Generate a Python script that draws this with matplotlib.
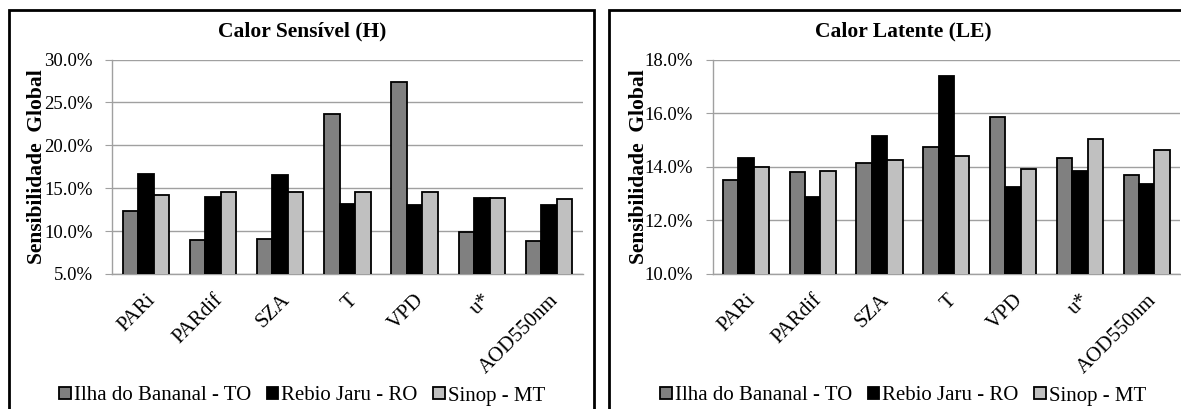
import numpy as np
import matplotlib.pyplot as plt
from matplotlib.patches import Rectangle
from matplotlib.ticker import FuncFormatter

plt.rcParams['font.family'] = ['Liberation Serif', 'DejaVu Serif']

# data
variables = ['PARi', 'PARdif', 'SZA', 'T', 'VPD', 'u*', 'AOD550nm']
sites = ['Ilha do Bananal - TO', 'Rebio Jaru - RO', 'Sinop - MT']
colors = ['#808080', '#000000', '#c0c0c0']

h_ilha = [12.3, 9.0, 9.1, 23.7, 27.4, 9.9, 8.9]
h_rebio = [16.7, 14.0, 16.5, 13.2, 13.1, 13.9, 13.1]
h_sinop = [14.2, 14.6, 14.5, 14.6, 14.6, 13.9, 13.7]

le_ilha = [13.5, 13.8, 14.14, 14.73, 15.86, 14.31, 13.7]
le_rebio = [14.31, 12.87, 15.13, 17.39, 13.24, 13.84, 13.35]
le_sinop = [14.0, 13.85, 14.27, 14.41, 13.91, 15.02, 14.62]

W, H = 1181, 409
fig = plt.figure(figsize=(W / 100, H / 100), dpi=100)

# panel frames
fig.add_artist(Rectangle((9 / W, -0.2), (594 - 9) / W, 1.2 - 10 / H,
                         transform=fig.transFigure, fill=False, lw=2, ec='black'))
fig.add_artist(Rectangle((609 / W, -0.2), 0.5, 1.2 - 10 / H,
                         transform=fig.transFigure, fill=False, lw=2, ec='black'))


def panel(left, width, center, label_x, series, ylim, yticks, title):
    ax = fig.add_axes([left / W, 1 - 274 / H, width / W, (274 - 59.5) / H])
    x = np.arange(len(variables))
    bw = 0.23
    for i, (vals, c, lab) in enumerate(zip(series, colors, sites)):
        ax.bar(x + (i - 1) * bw, vals, bw, bottom=0, color=c, edgecolor='black',
               linewidth=1.3, label=lab, zorder=3)
    ax.set_xlim(-0.5, len(variables) - 0.5)
    ax.set_ylim(*ylim)
    ax.set_yticks(yticks)
    ax.yaxis.set_major_formatter(FuncFormatter(lambda v, p: f'{v:.1f}%'))
    ax.grid(axis='y', color='#a0a0a0', lw=1, zorder=0)
    ax.set_xticks(x)
    ax.set_xticklabels(variables, rotation=45, ha='right', rotation_mode='anchor',
                       fontsize=15)
    ax.tick_params(axis='x', length=0, pad=12)
    ax.tick_params(axis='y', length=5, color='#a0a0a0', labelsize=13.5, pad=9)
    for s in ['top', 'right']:
        ax.spines[s].set_visible(False)
    for s in ['left', 'bottom']:
        ax.spines[s].set_color('#a0a0a0')
        ax.spines[s].set_linewidth(1)
    ax.set_ylabel('Sensibilidade  Global', fontsize=15.5, fontweight='bold')
    ax.yaxis.set_label_coords((label_x - left) / width, 0.5)
    ax.yaxis.label.set_va('center')
    fig.text(center / W, 1 - 31 / H, title, ha='center', va='center',
             fontsize=15.5, fontweight='bold')
    handles, labels = ax.get_legend_handles_labels()
    fig.legend(handles, labels, loc='center', bbox_to_anchor=(center / W, 1 - 396 / H),
               ncol=3, frameon=False, fontsize=15, handlelength=0.55, handleheight=0.55,
               handletextpad=0.15, columnspacing=0.75)
    return ax


panel(112.2, 470.4, 302, 37, [h_ilha, h_rebio, h_sinop], (5, 30),
      [5, 10, 15, 20, 25, 30], 'Calor Sensível (H)')
panel(712.5, 467.5, 903, 639, [le_ilha, le_rebio, le_sinop], (10, 18),
      [10, 12, 14, 16, 18], 'Calor Latente (LE)')

fig.savefig('out.png', dpi=100)
